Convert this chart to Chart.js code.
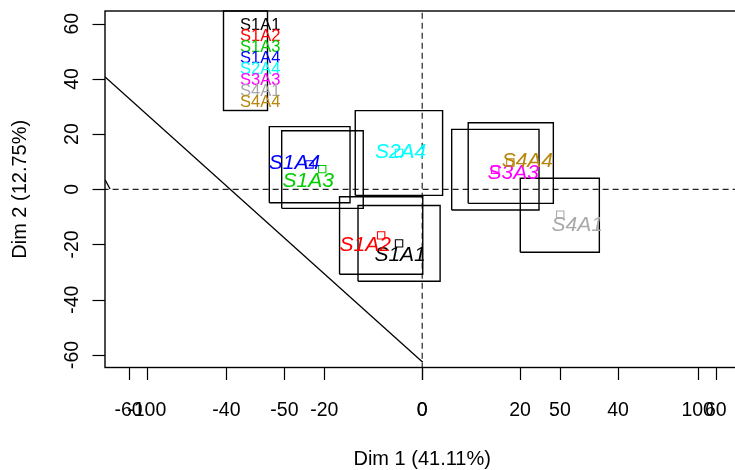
<!DOCTYPE html>
<html>
<head>
<meta charset="utf-8">
<script src="https://cdn.jsdelivr.net/npm/chart.js@4/dist/chart.umd.min.js"></script>
<style>
  body { margin: 0; background: #fff; }
  #chart { display: block; }
</style>
</head>
<body>
<canvas id="chart" width="735" height="470"></canvas>
<script>
// partial individuals (Dim 1 / Dim 2 coordinates)
const names = ["S1A1", "S1A2", "S1A3", "S1A4", "S2A4", "S3A3", "S4A1", "S4A4"];
const colors = ["#000000", "#FF0000", "#00CD00", "#0000FF", "#00FFFF", "#FF00FF", "#A9A9A9", "#B8860B"];
const dim1 = [-8.4, -14.9, -36.3, -40.9, -8.4, 26.5, 50.1, 32.0];
const dim2 = [-19.6, -16.7, 7.3, 9.0, 13.2, 7.1, -9.2, 9.7];

// boxes around each point
const boxX0 = [-23.3, -30.0, -51.0, -55.5, -24.3, 10.7, 35.6, 16.7];
const boxX1 = [6.5, 0.2, -21.4, -26.2, 7.4, 42.4, 64.3, 47.6];
const boxY0 = [-33.3, -30.8, -6.9, -4.9, -2.2, -7.5, -22.8, -5.1];
const boxY1 = [-5.9, -2.7, 21.2, 22.7, 28.5, 21.7, 4.0, 24.1];

// straight segments
const segX = [[-115.1, 0.2], [-115.1, -113.3]];
const segY = [[40.7, -62.7], [3.4, 0.1]];

// tick labels (two x axes drawn on top of each other)
const xTicksA = [-60, -40, -20, 0, 20, 40, 60];
const xTicksB = [-100, -50, 0, 50, 100];
const yTicks = [-60, -40, -20, 0, 20, 40, 60];
const xTitle = "Dim 1 (41.11%)";
const yTitle = "Dim 2 (12.75%)";

// label offsets from the point, px
const labelDx = [1, -16, -14, -15, 1.5, 18, 17, 17];
const labelDy = [10, 8.5, 10.7, -2.7, -2.8, 2.3, 8.4, -3.5];

const FONT = "'Liberation Sans', Arial, sans-serif";

const datasets = [];

names.forEach((n, i) => {
    datasets.push({
        type: "scatter",
        label: n,
        data: [{ x: dim1[i], y: dim2[i] }],
        pointStyle: "rect",
        pointRadius: 5.2,
        pointBorderWidth: 1.1,
        pointBorderColor: colors[i],
        pointBackgroundColor: "rgba(0,0,0,0)"
    });
});

names.forEach((n, i) => {
    datasets.push({
        type: "scatter",
        label: "box " + n,
        data: [
            { x: boxX0[i], y: boxY0[i] },
            { x: boxX1[i], y: boxY0[i] },
            { x: boxX1[i], y: boxY1[i] },
            { x: boxX0[i], y: boxY1[i] },
            { x: boxX0[i], y: boxY0[i] }
        ],
        showLine: true,
        borderColor: "#000",
        borderWidth: 1.4,
        pointRadius: 0,
        fill: false
    });
});

segX.forEach((xs, i) => {
    datasets.push({
        type: "scatter",
        label: "seg" + i,
        data: xs.map((x, j) => ({ x: x, y: segY[i][j] })),
        showLine: true,
        borderColor: "#000",
        borderWidth: 1.3,
        pointRadius: 0
    });
});

// dashed zero lines
datasets.push({
    type: "scatter",
    label: "h0",
    data: [{ x: -116, y: 0 }, { x: 114, y: 0 }],
    showLine: true,
    borderColor: "#222",
    borderWidth: 1.2,
    borderDash: [6, 4],
    pointRadius: 0
});
datasets.push({
    type: "scatter",
    label: "v0",
    data: [{ x: 0, y: -65 }, { x: 0, y: 65 }],
    showLine: true,
    borderColor: "#222",
    borderWidth: 1.2,
    borderDash: [6, 4],
    pointRadius: 0
});

// axes, box, legend and point labels
const decor = {
    id: "decor",
    afterDatasetsDraw(chart) {
        const ctx = chart.ctx;
        const a = chart.chartArea;
        const sx = chart.scales.x, sa = chart.scales.xa, sy = chart.scales.y;
        ctx.save();

        // point labels
        ctx.font = "italic 21px " + FONT;
        ctx.textAlign = "center";
        ctx.textBaseline = "alphabetic";
        names.forEach((n, i) => {
            ctx.fillStyle = colors[i];
            const px = sx.getPixelForValue(dim1[i]) + labelDx[i];
            const py = sy.getPixelForValue(dim2[i]) + labelDy[i];
            ctx.fillText(n, px, py + 7.5);
        });

        // frame
        ctx.strokeStyle = "#000";
        ctx.lineWidth = 1.4;
        ctx.strokeRect(a.left, a.top, a.right - a.left + 5, a.bottom - a.top);

        // legend
        ctx.strokeRect(223.5, a.top, 44, 99.5);
        ctx.font = "16.5px " + FONT;
        ctx.textAlign = "left";
        names.forEach((n, i) => {
            ctx.fillStyle = colors[i];
            ctx.fillText(n, 240, 29.6 + i * 11.1);
        });

        // x ticks
        ctx.strokeStyle = "#000";
        ctx.lineWidth = 1.2;
        ctx.fillStyle = "#000";
        ctx.font = "19.5px " + FONT;
        ctx.textAlign = "center";
        const xt = [];
        xTicksA.forEach(v => xt.push([sa.getPixelForValue(v), String(v)]));
        xTicksB.forEach(v => xt.push([sx.getPixelForValue(v), String(v)]));
        xt.forEach(([px, t]) => {
            ctx.beginPath();
            ctx.moveTo(Math.round(px) + 0.5, a.bottom);
            ctx.lineTo(Math.round(px) + 0.5, a.bottom + 12.5);
            ctx.stroke();
            ctx.fillText(t, px, 416);
        });

        // y ticks
        yTicks.forEach(v => {
            const py = sy.getPixelForValue(v);
            ctx.beginPath();
            ctx.moveTo(a.left, Math.round(py) + 0.5);
            ctx.lineTo(a.left - 12.5, Math.round(py) + 0.5);
            ctx.stroke();
            ctx.save();
            ctx.translate(78.3, py);
            ctx.rotate(-Math.PI / 2);
            ctx.fillText(String(v), 0, 0);
            ctx.restore();
        });

        // titles
        ctx.font = "20px " + FONT;
        ctx.fillText(xTitle, sx.getPixelForValue(0), 465);
        ctx.save();
        ctx.translate(26, sy.getPixelForValue(0));
        ctx.rotate(-Math.PI / 2);
        ctx.fillText(yTitle, 0, 0);
        ctx.restore();

        ctx.restore();
    }
};

const ctx = document.getElementById("chart").getContext("2d");
const chart = new Chart(ctx, {
    type: "scatter",
    data: { datasets: datasets },
    options: {
        responsive: false,
        animation: false,
        devicePixelRatio: 1,
        layout: {
            autoPadding: false,
            padding: { left: 105, right: 0, top: 11, bottom: 102.5 }
        },
        plugins: {
            legend: { display: false },
            tooltip: { enabled: false }
        },
        scales: {
            x: { type: "linear", min: -115.14, max: 113.54, display: false },
            xa: { type: "linear", axis: "x", position: "bottom", min: -64.81, max: 63.91, display: false },
            y: { type: "linear", min: -64.57, max: 64.6, display: false }
        }
    },
    plugins: [decor]
});
</script>
</body>
</html>
